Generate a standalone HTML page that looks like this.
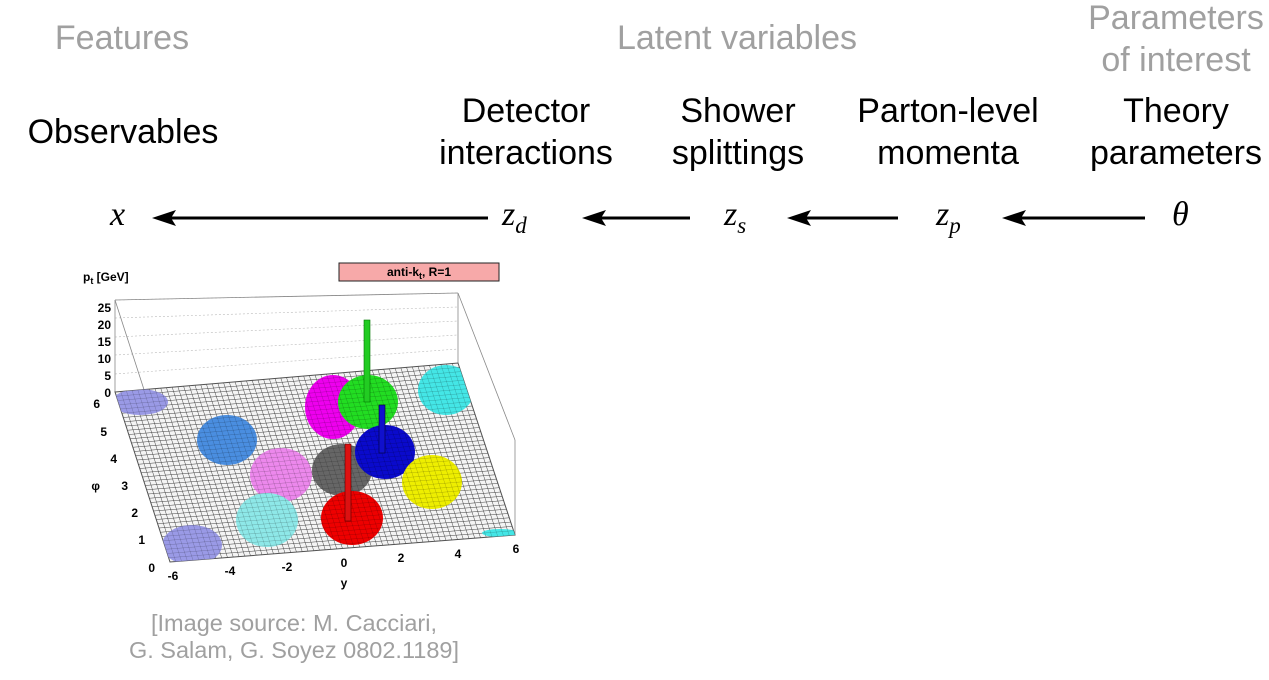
<!DOCTYPE html>
<html><head><meta charset="utf-8"><style>
html,body{margin:0;padding:0;background:#fff;}
body{width:1269px;height:680px;position:relative;overflow:hidden;font-family:"Liberation Sans",Helvetica,Arial,sans-serif;}
.t{position:absolute;font-size:34px;line-height:42px;text-align:center;white-space:nowrap;width:300px;}
.g{color:#a0a0a0;}
.m{position:absolute;font-family:"Liberation Serif",serif;font-style:italic;font-size:34px;}
</style></head><body>
<div class="t g" style="left:-28px;top:17px">Features</div>
<div class="t g" style="left:587px;top:17px">Latent variables</div>
<div class="t g" style="left:1026px;top:-3px">Parameters<br>of interest</div>
<div class="t" style="left:-27px;top:111px">Observables</div>
<div class="t" style="left:376px;top:90px">Detector<br>interactions</div>
<div class="t" style="left:588px;top:90px">Shower<br>splittings</div>
<div class="t" style="left:798px;top:90px">Parton-level<br>momenta</div>
<div class="t" style="left:1026px;top:90px">Theory<br>parameters</div>
<div class="m" style="left:110px;top:196px">x</div>
<div class="m" style="left:502px;top:196px">z<sub style="font-size:23px">d</sub></div>
<div class="m" style="left:724px;top:196px">z<sub style="font-size:23px">s</sub></div>
<div class="m" style="left:936px;top:196px">z<sub style="font-size:23px">p</sub></div>
<div class="m" style="left:1172px;top:196px">θ</div>
<svg width="1269" height="680" style="position:absolute;left:0;top:0">
<g stroke="#000" stroke-width="3" fill="none">
<line x1="488" y1="218" x2="165" y2="218"/>
<line x1="690" y1="218" x2="595" y2="218"/>
<line x1="898" y1="218" x2="800" y2="218"/>
<line x1="1145" y1="218" x2="1015" y2="218"/>
</g>
<g fill="#000">
<polygon points="152,218 176,210 171,218 176,226"/>
<polygon points="582,218 606,210 601,218 606,226"/>
<polygon points="787,218 811,210 806,218 811,226"/>
<polygon points="1002,218 1026,210 1021,218 1026,226"/>
</g>
<rect x="339" y="263" width="160" height="18" fill="#f7a9a9" stroke="#222"/>
<text x="419" y="276" font-size="12" font-weight="bold" text-anchor="middle" font-family="Liberation Sans">anti-k<tspan font-size="9" dy="3">t</tspan><tspan dy="-3">, R=1</tspan></text>
<text x="83" y="281" font-size="12" font-weight="bold" font-family="Liberation Sans">p<tspan font-size="9" dy="3">t</tspan><tspan dy="-3"> [GeV]</tspan></text>
<g stroke="#bbb" stroke-width="0.6" stroke-dasharray="2,2">
<line x1="115" y1="300" x2="458" y2="293"/><line x1="115" y1="318" x2="458" y2="307"/>
<line x1="115" y1="337" x2="458" y2="321"/><line x1="115" y1="355" x2="458" y2="335"/>
<line x1="115" y1="374" x2="458" y2="349"/>
</g>
<g stroke="#888" stroke-width="0.8" fill="none">
<line x1="115" y1="300" x2="115" y2="392"/><line x1="458" y1="293" x2="458" y2="363"/>
<line x1="115" y1="300" x2="458" y2="293"/><line x1="458" y1="293" x2="515" y2="440"/><line x1="515" y1="440" x2="515" y2="535"/>
<line x1="115" y1="300" x2="170" y2="470"/>
</g>
<clipPath id="pl"><polygon points="115,392 458,363 515,535 170,562"/></clipPath>
<polygon points="115,392 458,363 515,535 170,562" fill="#f4f4f4" stroke="#555" stroke-width="1"/>
<g clip-path="url(#pl)" stroke="#666" stroke-width="0.5" id="gl"></g>
<g clip-path="url(#pl)" stroke="none">
<ellipse cx="140" cy="402" rx="28" ry="13" fill="#9a9ae6"/>
<ellipse cx="227" cy="440" rx="30" ry="25" fill="#4a8ee0"/>
<ellipse cx="281" cy="475" rx="31" ry="27" fill="#ec88ec"/>
<ellipse cx="267" cy="520" rx="31" ry="27" fill="#8ee8e8"/>
<ellipse cx="192" cy="545" rx="30" ry="20" fill="#9a9ae6"/>
<ellipse cx="333" cy="407" rx="28" ry="32" fill="#ee00ee"/>
<ellipse cx="342" cy="470" rx="30" ry="26" fill="#666"/>
<ellipse cx="368" cy="402" rx="30" ry="27" fill="#22dd22"/>
<ellipse cx="385" cy="452" rx="30" ry="27" fill="#0a0acc"/>
<ellipse cx="432" cy="482" rx="30" ry="27" fill="#eeee00"/>
<ellipse cx="352" cy="518" rx="31" ry="27" fill="#ee0000"/>
<ellipse cx="446" cy="390" rx="28" ry="25" fill="#44e6e6"/>
<ellipse cx="500" cy="533" rx="18" ry="4" fill="#44e6e6"/>
</g>
<g clip-path="url(#pl)" stroke="#000" stroke-opacity="0.25" stroke-width="0.5" id="gl2"></g>
<rect x="364" y="320" width="6" height="82" fill="#22cc22" stroke="#070" stroke-width="0.6"/>
<rect x="379" y="405" width="6" height="48" fill="#1010cc" stroke="#003" stroke-width="0.6"/>
<rect x="345" y="444" width="6" height="77" fill="#dd1111" stroke="#500" stroke-width="0.6"/>
<g font-size="12" font-weight="bold" font-family="Liberation Sans" text-anchor="end">
<text x="111" y="312">25</text><text x="111" y="329">20</text><text x="111" y="346">15</text><text x="111" y="363">10</text><text x="111" y="380">5</text><text x="111" y="397">0</text>
<text x="100" y="408">6</text><text x="107" y="436">5</text><text x="117" y="463">4</text><text x="128" y="490">3</text><text x="138" y="517">2</text><text x="145" y="544">1</text><text x="155" y="572">0</text>
<text x="100" y="490">φ</text>
</g>
<g font-size="12" font-weight="bold" font-family="Liberation Sans" text-anchor="middle">
<text x="173" y="580">-6</text><text x="230" y="575">-4</text><text x="287" y="571">-2</text><text x="344" y="567">0</text><text x="401" y="562">2</text><text x="458" y="558">4</text><text x="516" y="553">6</text>
<text x="344" y="587">y</text>
</g>
<text x="294" y="631" font-size="23.5" fill="#a0a0a0" text-anchor="middle" font-family="Liberation Sans">[Image source: M. Cacciari,</text>
<text x="294" y="658" font-size="23.5" fill="#a0a0a0" text-anchor="middle" font-family="Liberation Sans">G. Salam, G. Soyez 0802.1189]</text>
</svg>
<script>
(function(){
var ns="http://www.w3.org/2000/svg";
function P(u,v){var tl=[115,392],tr=[458,363],bl=[170,562],br=[515,535];
var t=[tl[0]+(tr[0]-tl[0])*u,tl[1]+(tr[1]-tl[1])*u],b=[bl[0]+(br[0]-bl[0])*u,bl[1]+(br[1]-bl[1])*u];
return [t[0]+(b[0]-t[0])*v,t[1]+(b[1]-t[1])*v];}
["gl","gl2"].forEach(function(id){var g=document.getElementById(id);
for(var i=0;i<=60;i++){var a=P(i/60,0),b=P(i/60,1);var l=document.createElementNS(ns,"line");
l.setAttribute("x1",a[0]);l.setAttribute("y1",a[1]);l.setAttribute("x2",b[0]);l.setAttribute("y2",b[1]);g.appendChild(l);}
for(var j=0;j<=40;j++){var a=P(0,j/40),b=P(1,j/40);var l=document.createElementNS(ns,"line");
l.setAttribute("x1",a[0]);l.setAttribute("y1",a[1]);l.setAttribute("x2",b[0]);l.setAttribute("y2",b[1]);g.appendChild(l);}});
})();
</script>
</body></html>
